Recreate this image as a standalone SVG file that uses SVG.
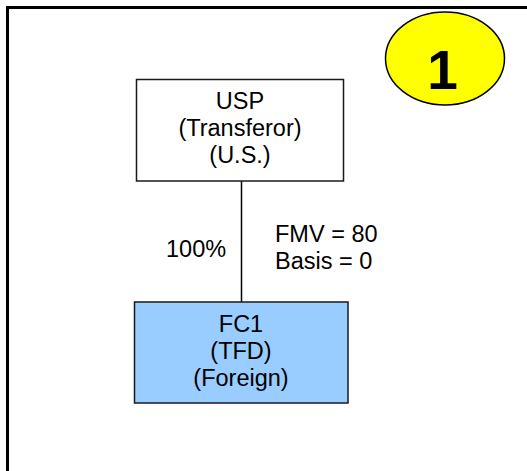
<svg xmlns="http://www.w3.org/2000/svg" width="527" height="471" viewBox="0 0 527 471">
<style>
.box{stroke:#1a1a1a;stroke-width:1.5}
.t{font-family:"Liberation Sans",Arial,sans-serif;font-size:23.5px;fill:#000}
.c{text-anchor:middle}
.frame{stroke:#000;stroke-width:3;fill:none}
</style>
<rect x="0" y="0" width="527" height="471" fill="#fff"/>
<g id="frame">
<path class="frame" d="M7.5,471 V7.5 H527"/>
</g>
<g id="connectors">
<line x1="241.5" y1="181" x2="241.5" y2="302" stroke="#000" stroke-width="1.5"/>
<text class="t" x="166" y="257">100%</text>
<text class="t" x="275" y="241.5">FMV = 80</text>
<text class="t" x="275" y="268.5">Basis = 0</text>
</g>
<g id="usp">
<rect class="box" x="136.5" y="79.5" width="207" height="101.5" fill="#fff"/>
<text class="t c" x="240" y="108.5">USP</text>
<text class="t c" x="240" y="135.5">(Transferor)</text>
<text class="t c" x="240" y="162.5">(U.S.)</text>
</g>
<g id="fc1">
<rect class="box" x="134.5" y="302" width="213.5" height="101" fill="#99ccff"/>
<text class="t c" x="241" y="331.5">FC1</text>
<text class="t c" x="241" y="358.5">(TFD)</text>
<text class="t c" x="241" y="385.5">(Foreign)</text>
</g>
<g id="badge">
<ellipse cx="445" cy="58.5" rx="59.5" ry="46.5" fill="#ffff00" stroke="#000" stroke-width="1.5"/>
<text x="442.5" y="88.5" text-anchor="middle" style="font-family:'Liberation Sans',Arial,sans-serif;font-size:55px;font-weight:bold;fill:#000">1</text>
</g>
</svg>
